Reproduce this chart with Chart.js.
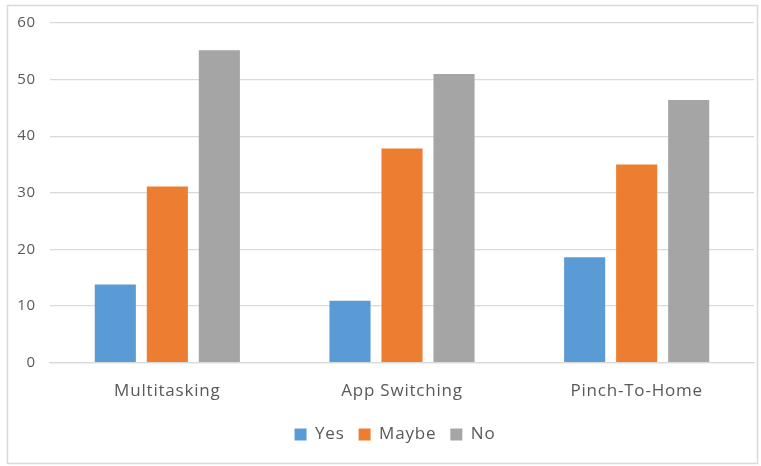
<!DOCTYPE html>
<html>
<head>
<meta charset="utf-8">
<script src="https://cdn.jsdelivr.net/npm/chart.js@4"></script>
<style>
  html, body { margin: 0; padding: 0; background: #fff; }
  #wrap { position: relative; width: 761px; height: 466px; }
</style>
</head>
<body>
<div id="wrap"><canvas id="chart" width="761" height="466"></canvas></div>
<script>
// data
const categories = ['Multitasking', 'App Switching', 'Pinch-To-Home'];
const yesValues = [13.8, 10.9, 18.6];
const maybeValues = [31.1, 37.8, 35.0];
const noValues = [55.2, 51.0, 46.4];

const font = "'Open Sans', 'Liberation Sans', sans-serif";

// outer frame like the Excel chart area
const framePlugin = {
    id: 'frame',
    beforeDraw(chart) {
        const ctx = chart.ctx;
        ctx.save();
        ctx.fillStyle = '#fff';
        ctx.fillRect(0, 0, chart.width, chart.height);
        ctx.strokeStyle = '#d9d9d9';
        ctx.lineWidth = 1.5;
        ctx.strokeRect(7.5, 5.5, 750, 458);
        ctx.restore();
    }
};

// a bit of letter spacing, the Excel text looks wide
const spacingPlugin = {
    id: 'spacing',
    beforeInit(chart) { chart.ctx.letterSpacing = '0.8px'; },
    beforeUpdate(chart) { chart.ctx.letterSpacing = '0.8px'; },
    beforeDraw(chart) { chart.ctx.letterSpacing = '0.8px'; }
};

// legend sits a little right of the canvas centre in the original
const legendShift = {
    id: 'legendShift',
    afterUpdate(chart) {
        chart.legend.left += 13;
        chart.legend.right += 13;
    }
};

const data = {
    labels: categories,
    datasets: [
        { label: 'Yes', data: yesValues, backgroundColor: '#5b9bd5' },
        { label: 'Maybe', data: maybeValues, backgroundColor: '#ed7d31' },
        { label: 'No', data: noValues, backgroundColor: '#a5a5a5' }
    ]
};

const config = {
    type: 'bar',
    data,
    options: {
        responsive: false,
        animation: false,
        devicePixelRatio: 1,
        layout: { padding: { left: 10, right: 7, top: 21.5, bottom: 13 } },
        datasets: {
            bar: { categoryPercentage: 0.665, barPercentage: 0.79 }
        },
        scales: {
            y: {
                min: 0,
                max: 60,
                ticks: { stepSize: 10, padding: 14, color: '#595959', font: { family: font, size: 15 } },
                grid: { color: '#d9d9d9', lineWidth: 1.2, drawTicks: false },
                border: { display: false },
                afterFit(scale) { scale.width = 40; }
            },
            x: {
                ticks: { padding: 18.5, color: '#595959', font: { family: font, size: 17 } },
                grid: { display: false, drawTicks: false },
                border: { color: '#d9d9d9', width: 1.2 },
                afterFit(scale) { scale.height = 49.5; }
            }
        },
        plugins: {
            legend: {
                position: 'bottom',
                labels: {
                    color: '#595959',
                    font: { family: font, size: 17 },
                    boxWidth: 12,
                    boxHeight: 12,
                    padding: 14
                }
            },
            tooltip: { enabled: false }
        }
    },
    plugins: [framePlugin, spacingPlugin, legendShift]
};

const myChart = new Chart(document.getElementById('chart'), config);
</script>
</body>
</html>
